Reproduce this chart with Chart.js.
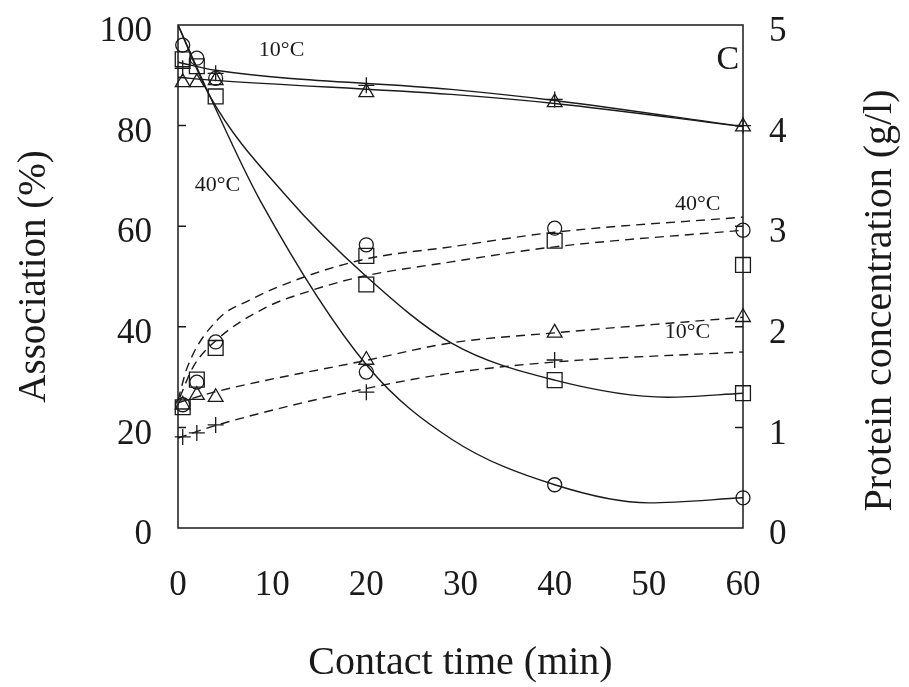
<!DOCTYPE html>
<html>
<head>
<meta charset="utf-8">
<script src="https://cdn.jsdelivr.net/npm/chart.js@4/dist/chart.umd.min.js"></script>
<style>
  html, body { margin: 0; padding: 0; background: #fff; }
  #wrap { width: 909px; height: 687px; }
</style>
</head>
<body>
<div id="wrap"><canvas id="c" width="909" height="687"></canvas></div>
<script>
// measured times (min)
const times = [0.5, 2, 4, 20, 40, 60];

// Association (%), left axis - dashed group
const assocCircle40   = [24.5, 29.0, 37.0, 56.3, 59.6, 59.2];
const assocSquare40   = [24.0, 29.5, 35.8, 54.1, 57.1, 52.3];
const assocTriangle10 = [24.5, 26.4, 26.0, 33.4, 38.8, 41.9];
const assocPlus10     = [18.1, 18.9, 20.5, 27.0, 33.4, null];

// Protein concentration (g/l), right axis - solid group
const protCircle40   = [4.80, 4.67, 4.47, 1.55, 0.43, 0.30];
const protSquare40   = [4.66, 4.59, 4.29, 2.42, 1.47, 1.34];
const protTriangle10 = [4.43, 4.43, 4.45, 4.33, 4.23, 3.99];
const protPlus10     = [4.57, null, 4.52, 4.40, 4.26, 4.00];

// fitted curves
const fitAssoc40aT = [0, 1, 4.2, 7.6, 13.4, 20, 29, 40, 60];
const fitAssoc40a  = [25.4, 32.0, 41.4, 45.3, 49.9, 53.5, 55.9, 58.8, 61.8];
const fitAssoc40bT = [0.2, 1.6, 4.1, 9.4, 13.3, 19.3, 29, 40, 60];
const fitAssoc40b  = [26.0, 32.0, 37.4, 43.9, 46.7, 49.9, 52.9, 55.9, 59.2];
const fitAssoc10aT = [0, 3.8, 20.2, 29, 40, 60];
const fitAssoc10a  = [24.9, 27.0, 33.4, 36.8, 38.8, 41.9];
const fitAssoc10bT = [0, 4.2, 20.2, 29, 40, 60];
const fitAssoc10b  = [17.9, 20.5, 27.8, 30.8, 33.0, 35.0];

const fitProt40aT = [0, 3.4, 8.7, 20.2, 29.1, 40, 50, 60];
const fitProt40a  = [5.0, 4.29, 3.26, 1.60, 0.88, 0.43, 0.25, 0.30];
const fitProt40bT = [0, 3.4, 11.5, 20, 29, 40, 52, 60];
const fitProt40b  = [5.0, 4.29, 3.30, 2.50, 1.84, 1.47, 1.30, 1.34];
const fitProt10aT = [0, 4, 29, 40, 60];
const fitProt10a  = [4.63, 4.55, 4.36, 4.25, 3.99];
const fitProt10bT = [0, 4, 29, 40, 60];
const fitProt10b  = [4.48, 4.45, 4.31, 4.22, 3.99];

// axis ticks
const xTicks  = [0, 10, 20, 30, 40, 50, 60];
const yTicks  = [0, 20, 40, 60, 80, 100];
const y2Ticks = [0, 1, 2, 3, 4, 5];

// text labels on the plot: [text, time, association %, size]
const notes = [
  ['10°C', 11.0, 95.0, 22],
  ['40°C', 4.2, 68.2, 22],
  ['40°C', 55.2, 64.4, 22],
  ['10°C', 54.1, 39.0, 22],
  ['C', 58.4, 93.0, 34]
];

const INK = '#1a1a1a';
const SERIF = '"Liberation Serif", "DejaVu Serif", serif';

function pts(xs, ys) {
  return xs.map((x, i) => ({ x, y: ys[i] })).filter(p => p.y !== null);
}

function markers(label, ys, style, radius, axis) {
  return {
    label, data: pts(times, ys), yAxisID: axis,
    showLine: false, pointStyle: style, pointRadius: radius,
    pointBorderColor: INK, pointBackgroundColor: 'rgba(0,0,0,0)',
    pointBorderWidth: 1.3, clip: false
  };
}

function curve(label, xs, ys, axis, dashed) {
  return {
    label, data: pts(xs, ys), yAxisID: axis,
    showLine: true, pointRadius: 0, borderColor: INK, borderWidth: 1.4,
    borderDash: dashed ? [9, 6] : [], cubicInterpolationMode: 'monotone',
    fill: false
  };
}

// frame, inward ticks, the temperature notes and the right-hand title
const framePlugin = {
  id: 'frame',
  afterDatasetsDraw(chart) {
    const { ctx, chartArea: a, scales } = chart;
    ctx.save();
    ctx.strokeStyle = INK;
    ctx.lineWidth = 1.5;
    ctx.strokeRect(a.left, a.top, a.right - a.left, a.bottom - a.top);
    ctx.beginPath();
    yTicks.slice(1, -1).forEach(v => {
      const y = scales.y.getPixelForValue(v);
      ctx.moveTo(a.left, y); ctx.lineTo(a.left + 8, y);
    });
    y2Ticks.slice(1, -1).forEach(v => {
      const y = scales.y2.getPixelForValue(v);
      ctx.moveTo(a.right, y); ctx.lineTo(a.right - 8, y);
    });
    ctx.stroke();
    ctx.fillStyle = INK;
    ctx.textAlign = 'center';
    ctx.textBaseline = 'middle';
    notes.forEach(([t, x, y, size]) => {
      ctx.font = size + 'px ' + SERIF;
      ctx.fillText(t, scales.x.getPixelForValue(x), scales.y.getPixelForValue(y));
    });
    // right title reads bottom-to-top like the left one
    ctx.font = '40px ' + SERIF;
    ctx.translate(scales.y2.right - 29, (a.top + a.bottom) / 2 + 24);
    ctx.rotate(-Math.PI / 2);
    ctx.fillText('Protein concentration (g/l)', 0, 0);
    ctx.restore();
  }
};

const tickFont = { family: SERIF, size: 35 };
const yTickFont = { family: SERIF, size: 35, lineHeight: 0.3 };
const titleFont = { family: SERIF, size: 39 };

new Chart(document.getElementById('c'), {
  type: 'scatter',
  data: {
    datasets: [
      markers('Assoc 40°C (o)', assocCircle40, 'circle', 7, 'y'),
      markers('Assoc 40°C (□)', assocSquare40, 'rect', 10.5, 'y'),
      markers('Assoc 10°C (Δ)', assocTriangle10, 'triangle', 8.5, 'y'),
      markers('Assoc 10°C (+)', assocPlus10, 'cross', 8, 'y'),
      markers('Protein 40°C (o)', protCircle40, 'circle', 7, 'y2'),
      markers('Protein 40°C (□)', protSquare40, 'rect', 10.5, 'y2'),
      markers('Protein 10°C (Δ)', protTriangle10, 'triangle', 8.5, 'y2'),
      markers('Protein 10°C (+)', protPlus10, 'cross', 8, 'y2'),
      curve('fit a40', fitAssoc40aT, fitAssoc40a, 'y', true),
      curve('fit b40', fitAssoc40bT, fitAssoc40b, 'y', true),
      curve('fit a10', fitAssoc10aT, fitAssoc10a, 'y', true),
      curve('fit b10', fitAssoc10bT, fitAssoc10b, 'y', true),
      curve('fit p40a', fitProt40aT, fitProt40a, 'y2', false),
      curve('fit p40b', fitProt40bT, fitProt40b, 'y2', false),
      curve('fit p10a', fitProt10aT, fitProt10a, 'y2', false),
      curve('fit p10b', fitProt10bT, fitProt10b, 'y2', false)
    ]
  },
  options: {
    responsive: false,
    animation: false,
    layout: { padding: { top: 25, left: 0, right: 0, bottom: 0 } },
    plugins: { legend: { display: false }, tooltip: { enabled: false } },
    scales: {
      x: {
        type: 'linear', min: 0, max: 60,
        afterBuildTicks: s => { s.ticks = xTicks.map(v => ({ value: v })); },
        afterFit: s => { s.height = 159; },
        grid: { display: false }, border: { display: false },
        ticks: { font: tickFont, color: INK, padding: 29, maxRotation: 0 },
        title: { display: true, text: 'Contact time (min)', font: { family: SERIF, size: 40 }, color: INK, padding: { top: 0, bottom: 0 } }
      },
      y: {
        position: 'left', min: 0, max: 100,
        afterBuildTicks: s => { s.ticks = yTicks.map(v => ({ value: v })); },
        afterFit: s => { s.width = 178; },
        grid: { display: false }, border: { display: false },
        ticks: { font: yTickFont, color: INK, padding: 18, labelOffset: 7 },
        title: { display: true, text: 'Association (%)', font: titleFont, color: INK, padding: { top: 11, bottom: 0 } }
      },
      y2: {
        position: 'right', min: 0, max: 5,
        afterBuildTicks: s => { s.ticks = y2Ticks.map(v => ({ value: v })); },
        afterFit: s => { s.width = 166; },
        grid: { display: false }, border: { display: false },
        ticks: { font: yTickFont, color: INK, padding: 18, labelOffset: 7 }
      }
    }
  },
  plugins: [framePlugin]
});
</script>
</body>
</html>
